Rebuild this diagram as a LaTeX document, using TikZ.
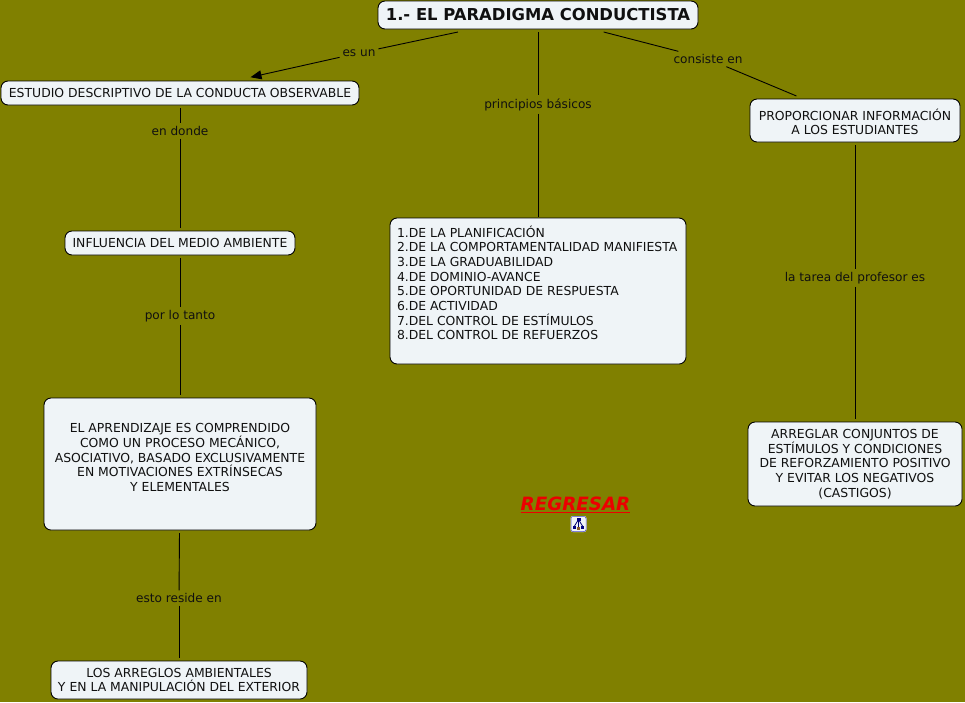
\documentclass[tikz,border=0pt]{standalone}
\usepackage{fontspec}
\setmainfont{DejaVu Sans}
\usetikzlibrary{arrows.meta}
\definecolor{olivebg}{HTML}{808000}
\definecolor{boxfill}{HTML}{EFF4F7}
\definecolor{ink}{HTML}{101010}
\tikzset{
  box/.style={draw=black,line width=0.9pt,fill=boxfill,rounded corners=7pt,inner sep=0pt,outer sep=3pt,align=center,text=ink,font=\fontsize{12.4}{14.7}\selectfont},
  lab/.style={inner sep=0pt,outer sep=3pt,text=ink,font=\fontsize{12.1}{14}\selectfont},
  link/.style={line width=0.9pt,draw=black},
  arrowlink/.style={link,shorten >=3.5pt,-{Triangle[length=11pt,width=9pt]}}
}
\newcommand{\bx}[7]{% name, x0, y0, x1, y1, options, text
  \node[box,#6,minimum width={(#4-#2)*1pt},minimum height={(#5-#3)*1pt}] (#1) at ({(#2+#4)/2},{(#3+#5)/2}) {#7};}
\begin{document}
\begin{tikzpicture}[x=1pt,y=-1pt]
\useasboundingbox (0,0) rectangle (965,702);
\fill[olivebg] (0,0) rectangle (965,702);
% labels
\node[lab] (l1) at (359,53) {es un};
\node[lab] (l2) at (538,104.5) {principios básicos};
\node[lab] (l3) at (708,59) {consiste en};
\node[lab] (l4) at (180,131) {en donde};
\node[lab] (l5) at (180,316) {por lo tanto};
\node[lab] (l6) at (179,598) {esto reside en};
\node[lab] (l7) at (855,278) {la tarea del profesor es};
% boxes
\bx{root}{378}{1}{698}{29}{font=\fontsize{16.4}{18}\selectfont\bfseries}{1.- EL PARADIGMA CONDUCTISTA}
\bx{est}{1}{81}{359}{105}{}{ESTUDIO DESCRIPTIVO DE LA CONDUCTA OBSERVABLE}
\bx{prop}{750}{99}{960}{142}{}{\rule{0pt}{14pt}PROPORCIONAR INFORMACIÓN\\A LOS ESTUDIANTES}
\bx{inf}{65}{231}{295}{255}{}{INFLUENCIA DEL MEDIO AMBIENTE}
\bx{apr}{44}{398}{316}{530}{}{EL APRENDIZAJE ES COMPRENDIDO\\COMO UN PROCESO MECÁNICO,\\ASOCIATIVO, BASADO EXCLUSIVAMENTE\\EN MOTIVACIONES EXTRÍNSECAS\\Y ELEMENTALES\\[-1.7pt]}
\bx{arr}{51}{661}{307}{699}{}{LOS ARREGLOS AMBIENTALES\\Y EN LA MANIPULACIÓN DEL EXTERIOR}
\bx{pri}{390}{218}{686}{364}{}{\begin{minipage}[t][146pt][t]{282pt}\vspace{7.5pt}1.DE LA PLANIFICACIÓN\\2.DE LA COMPORTAMENTALIDAD MANIFIESTA\\3.DE LA GRADUABILIDAD\\4.DE DOMINIO-AVANCE\\5.DE OPORTUNIDAD DE RESPUESTA\\6.DE ACTIVIDAD\\7.DEL CONTROL DE ESTÍMULOS\\8.DEL CONTROL DE REFUERZOS\end{minipage}}
\bx{tar}{748}{422}{962}{506}{}{ARREGLAR CONJUNTOS DE\\ESTÍMULOS Y CONDICIONES\\DE REFORZAMIENTO POSITIVO\\Y EVITAR LOS NEGATIVOS\\(CASTIGOS)}
% connectors
\draw[link] (root) -- (l1);
\draw[arrowlink] (l1) -- (est);
\draw[link] (root.south -| l2) -- (l2);
\draw[link,shorten >=-2pt] (l2) -- (pri.north -| l2);
\draw[link] (root) -- (l3);
\draw[link] (l3) -- (prop);
\draw[link] (est) -- (l4);
\draw[link] (l4) -- (inf);
\draw[link] (inf) -- (l5);
\draw[link] (l5) -- (apr);
\draw[link] (apr) -- (l6);
\draw[link] (l6) -- (arr);
\draw[link] (prop) -- (l7);
\draw[link] (l7) -- (tar);
% link text and icon
\node[inner sep=0pt,text=red!92!black,font=\fontsize{18.3}{22}\selectfont\bfseries\itshape] (reg) at (575.5,505) {\underline{REGRESAR}};
\node[draw=white,fill=boxfill,line width=1pt,rounded corners=2pt,minimum size=15pt,inner sep=0pt] (icon) at (578.5,524) {};
\draw[draw=blue!50!gray,line width=0.5pt,rounded corners=2pt] (571,516.5) rectangle (586,531.5);
\draw[draw=blue!45!black,line width=0.8pt] (578.5,519.5) -- (574.5,526) (578.5,519.5) -- (582.5,526) (578.5,519.5) -- (578.5,528);
\fill[blue!50!black] (576.5,518) rectangle (580.5,521);
\fill[blue!50!black] (573,525.5) rectangle (576,528.5);
\fill[brown!70!black] (577,527) rectangle (580,530);
\fill[blue!50!black] (581,525.5) rectangle (584,528.5);
\end{tikzpicture}
\end{document}
